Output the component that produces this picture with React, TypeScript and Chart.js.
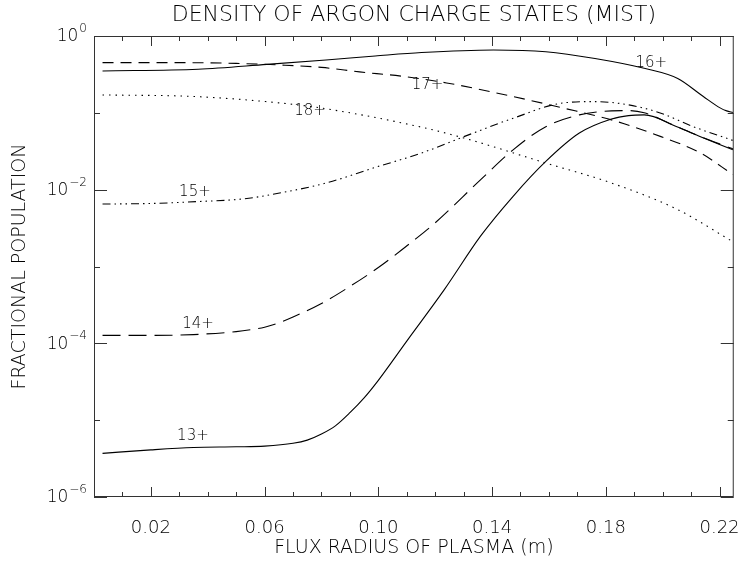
import React, { useEffect, useRef } from "react";
import { Chart, registerables } from "chart.js";

Chart.register(...registerables);

// ---------- text ----------
const chartTitle = "DENSITY OF ARGON CHARGE STATES (MIST)";
const xAxisTitle = "FLUX RADIUS OF PLASMA (m)";
const yAxisTitle = "FRACTIONAL POPULATION";

// ---------- axes ----------
const xMin = 0;
const xMax = 0.225;
const xTickValues = [
  0.01, 0.02, 0.03, 0.04, 0.05, 0.06, 0.07, 0.08, 0.09, 0.1, 0.11, 0.12,
  0.13, 0.14, 0.15, 0.16, 0.17, 0.18, 0.19, 0.2, 0.21, 0.22,
];
const xLabeledTicks = ["0.02", "0.06", "0.10", "0.14", "0.18", "0.22"];
const yTickExponents = [0, -1, -2, -3, -4, -5, -6];
const yLabeledExponents = [0, -2, -4, -6];

// ---------- series ----------
const x13 = [0.003, 0.02, 0.035, 0.05, 0.06, 0.07, 0.075, 0.08, 0.085, 0.09, 0.095, 0.1, 0.11, 0.1232, 0.136, 0.1474, 0.1589, 0.1707, 0.182, 0.188, 0.1935, 0.205, 0.2133, 0.2247];
const y13 = [3.7e-6, 4.1e-6, 4.4e-6, 4.5e-6, 4.6e-6, 5.0e-6, 5.5e-6, 6.6e-6, 8.5e-6, 1.25e-5, 1.95e-5, 3.3e-5, 1.07e-4, 5.0e-4, 2.5e-3, 8.2e-3, 0.0233, 0.0545, 0.083, 0.092, 0.094, 0.066, 0.049, 0.033];

const x14 = [0.003, 0.02, 0.035, 0.05, 0.055, 0.06, 0.065, 0.07, 0.08, 0.09, 0.1, 0.1128, 0.12, 0.136, 0.1474, 0.1589, 0.1707, 0.182, 0.188, 0.1935, 0.205, 0.2133, 0.2247];
const y14 = [1.27e-4, 1.27e-4, 1.3e-4, 1.42e-4, 1.5e-4, 1.62e-4, 1.85e-4, 2.2e-4, 3.3e-4, 5.5e-4, 9.7e-4, 2.24e-3, 3.7e-3, 0.0135, 0.033, 0.066, 0.094, 0.106, 0.107, 0.1, 0.066, 0.049, 0.034];

const x15 = [0.003, 0.0192, 0.0366, 0.0528, 0.0677, 0.0816, 0.0989, 0.1152, 0.1301, 0.1474, 0.1647, 0.1762, 0.188, 0.1994, 0.2108, 0.2247];
const y15 = [6.5e-3, 6.6e-3, 7.0e-3, 7.6e-3, 9.4e-3, 0.0122, 0.0195, 0.03, 0.049, 0.085, 0.134, 0.14, 0.127, 0.099, 0.066, 0.0437];

const x16 = [0.003, 0.0366, 0.0608, 0.0816, 0.0989, 0.1152, 0.1405, 0.1589, 0.1762, 0.1935, 0.2053, 0.2143, 0.2202, 0.2225, 0.2247];
const y16 = [0.351, 0.369, 0.427, 0.488, 0.55, 0.61, 0.658, 0.625, 0.51, 0.38, 0.28, 0.163, 0.116, 0.106, 0.101];

const x17 = [0.003, 0.03, 0.05, 0.065, 0.08, 0.0934, 0.108, 0.124, 0.1474, 0.1647, 0.182, 0.1994, 0.2133, 0.2247];
const y17 = [0.45, 0.45, 0.44, 0.42, 0.39, 0.341, 0.3, 0.245, 0.163, 0.116, 0.081, 0.049, 0.03, 0.0157];

const x18 = [0.003, 0.0355, 0.0657, 0.0816, 0.1152, 0.1301, 0.1589, 0.182, 0.2053, 0.2247];
const y18 = [0.171, 0.163, 0.134, 0.113, 0.065, 0.047, 0.0222, 0.0122, 0.0055, 0.0021];

// ---------- curve labels ----------
const curveLabelText = ["13+", "14+", "15+", "16+", "17+", "18+"];
const curveLabelX = [0.0348, 0.0366, 0.0355, 0.196, 0.1173, 0.076];
const curveLabelY = [6.2e-6, 1.77e-4, 9.2e-3, 0.446, 0.231, 0.104];

const FONT = '"DejaVu Sans", "Noto Sans", sans-serif';
const WEIGHT = "200";
const INK = "#000000";
const FRAME = "#333333";

const isMajorX = (v: number) => xLabeledTicks.includes(v.toFixed(2));
const isMajorY = (v: number) => yLabeledExponents.includes(Math.round(Math.log10(v)));

const toPoints = (xs: number[], ys: number[]) => xs.map((x, i) => ({ x, y: ys[i] }));

const framePlugin = {
  id: "idlFrame",
  afterDatasetsDraw(chart: any) {
    const ctx = chart.ctx as CanvasRenderingContext2D;
    const { left, right, top, bottom } = chart.chartArea;
    const xs = chart.scales.x;
    const ys = chart.scales.y;
    ctx.save();
    ctx.strokeStyle = FRAME;
    ctx.lineWidth = 1;
    ctx.strokeRect(left + 0.5, top + 0.5, right - left - 1, bottom - top - 1);
    ctx.beginPath();
    xs.ticks.forEach((t: any) => {
      const px = Math.round(xs.getPixelForValue(t.value)) + 0.5;
      const len = isMajorX(t.value) ? 10 : 5;
      ctx.moveTo(px, bottom);
      ctx.lineTo(px, bottom - len);
      ctx.moveTo(px, top);
      ctx.lineTo(px, top + len);
    });
    ys.ticks.forEach((t: any) => {
      const py = Math.round(ys.getPixelForValue(t.value)) + 0.5;
      const len = isMajorY(t.value) ? 13 : 6;
      ctx.moveTo(left, py);
      ctx.lineTo(left + len, py);
      ctx.moveTo(right, py);
      ctx.lineTo(right - len, py);
    });
    ctx.stroke();

    // y tick labels: 10 with raised exponent
    ctx.fillStyle = INK;
    ctx.textBaseline = "middle";
    ys.ticks.forEach((t: any) => {
      const e = Math.round(Math.log10(t.value));
      if (!yLabeledExponents.includes(e)) return;
      const py = ys.getPixelForValue(t.value);
      const expTxt = String(e).replace("-", "\u2212");
      ctx.font = `${WEIGHT} 12px ${FONT}`;
      const ew = ctx.measureText(expTxt).width;
      const rightEdge = left - 7;
      ctx.textAlign = "left";
      ctx.fillText(expTxt, rightEdge - ew, py - 7);
      ctx.font = `${WEIGHT} 17px ${FONT}`;
      ctx.textAlign = "right";
      ctx.fillText("10", rightEdge - ew - 1, py + 1);
    });

    ctx.font = `${WEIGHT} 15px ${FONT}`;
    ctx.textAlign = "center";
    curveLabelText.forEach((txt, i) => {
      ctx.fillText(txt, xs.getPixelForValue(curveLabelX[i]), ys.getPixelForValue(curveLabelY[i]));
    });
    ctx.restore();
  },
};

export default function App() {
  const canvasRef = useRef<HTMLCanvasElement | null>(null);

  useEffect(() => {
    const canvas = canvasRef.current;
    if (!canvas) return;
    const common = {
      borderColor: INK,
      borderWidth: 1.1,
      pointRadius: 0,
      fill: false,
      cubicInterpolationMode: "monotone" as const,
    };
    const chart = new Chart(canvas, {
      type: "line",
      data: {
        datasets: [
          { ...common, label: "13+", data: toPoints(x13, y13), borderDash: [] },
          { ...common, label: "14+", data: toPoints(x14, y14), borderDash: [18, 8] },
          { ...common, label: "15+", data: toPoints(x15, y15), borderDash: [8, 4, 1.5, 4, 1.5, 4, 1.5, 4] },
          { ...common, label: "16+", data: toPoints(x16, y16), borderDash: [] },
          { ...common, label: "17+", data: toPoints(x17, y17), borderDash: [11, 7] },
          { ...common, label: "18+", data: toPoints(x18, y18), borderDash: [1.5, 5] },
        ],
      },
      options: {
        responsive: false,
        animation: false,
        devicePixelRatio: 1,
        layout: { padding: { left: 0, right: 9, top: 0, bottom: 0 } },
        plugins: {
          legend: { display: false },
          tooltip: { enabled: false },
          title: {
            display: true,
            text: chartTitle,
            fullSize: false,
            color: INK,
            font: { family: FONT, size: 22, weight: WEIGHT as any, lineHeight: 1.2 },
            padding: { top: 1.8, bottom: 7.8 },
          },
        },
        scales: {
          x: {
            type: "linear",
            min: xMin,
            max: xMax,
            grid: { display: false },
            border: { display: false },
            afterBuildTicks: (scale: any) => {
              scale.ticks = xTickValues.map((v) => ({ value: v }));
            },
            afterFit: (scale: any) => {
              scale.height = 64;
            },
            ticks: {
              autoSkip: false,
              maxRotation: 0,
              color: INK,
              padding: 13,
              font: { family: FONT, size: 18, weight: WEIGHT as any },
              callback: (v: any) => {
                const s = Number(v).toFixed(2);
                return xLabeledTicks.includes(s) ? s : "";
              },
            },
            title: {
              display: true,
              text: xAxisTitle,
              color: INK,
              font: { family: FONT, size: 19, weight: WEIGHT as any },
              padding: { top: 0, bottom: 1.5 },
            },
          },
          y: {
            type: "logarithmic",
            min: 1e-6,
            max: 1,
            grid: { display: false },
            border: { display: false },
            afterBuildTicks: (scale: any) => {
              scale.ticks = yTickExponents.map((e) => ({ value: Math.pow(10, e) }));
            },
            afterFit: (scale: any) => {
              scale.width = 94;
            },
            ticks: { display: false },
            title: {
              display: true,
              text: yAxisTitle,
              color: INK,
              font: { family: FONT, size: 19, weight: WEIGHT as any },
              padding: { top: 9, bottom: 0 },
            },
          },
        },
      },
      plugins: [framePlugin],
    });
    return () => chart.destroy();
  }, []);

  return (
    <div style={{ position: "absolute", left: 0, top: 0, width: 753, height: 561, background: "#ffffff" }}>
      <canvas ref={canvasRef} width={753} height={561} style={{ display: "block" }} />
    </div>
  );
}
